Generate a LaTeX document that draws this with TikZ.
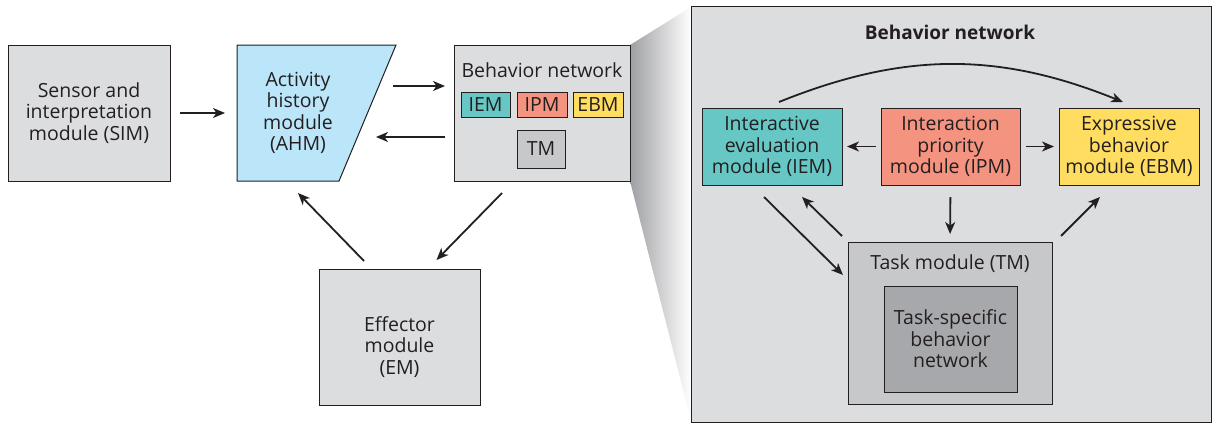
\documentclass[tikz,border=0pt]{standalone}
\usepackage{fontspec}
\setmainfont{Open Sans}
\usetikzlibrary{arrows.meta,backgrounds}

\definecolor{boxgray}{HTML}{DCDDDF}
\definecolor{ahmblue}{HTML}{BBE5F8}
\definecolor{iemteal}{HTML}{66C7C5}
\definecolor{ipmsalmon}{HTML}{F4937F}
\definecolor{ebmyellow}{HTML}{FFDD61}
\definecolor{tmgray}{HTML}{C7C8CA}
\definecolor{tsbngray}{HTML}{A7A8AB}
\definecolor{edge}{HTML}{231F20}

\begin{document}
\begin{tikzpicture}[x=1pt, y=-1pt,
	font=\fontsize{19.5}{21.5}\selectfont, text=edge,
	every node/.style={outer sep=0pt, inner sep=0pt, align=center},
	box/.style={draw=edge, line width=1pt},
	arr/.style={draw=edge, line width=1.8pt, -{Stealth[length=12pt, width=10pt, inset=3.5pt]}}]
	\useasboundingbox (0,0) rectangle (1212,423);

	\node[box, fill=boxgray, minimum width=162pt, minimum height=136pt] (sim) at (89,113) {Sensor and\\interpretation\\module (SIM)};

	\node[minimum width=159pt, minimum height=136pt] (ahm) at (316.5,113) {};
	\draw[box, fill=ahmblue] (ahm.north west) -- (ahm.north east) -- ([xshift=-57pt]ahm.south east) -- (ahm.south west) -- cycle;
	\node (ahmlbl) at (298,113) {Activity\\history\\module\\(AHM)};

	\node[box, fill=boxgray, minimum width=176pt, minimum height=136pt] (bn) at (542,113) {};
	\node (bnlbl) at ([yshift=43pt]bn.center) {Behavior network};
	\node[box, fill=iemteal, minimum width=49pt, minimum height=25pt] (iemsmall) at (485.5,104.5) {IEM};
	\node[box, fill=ipmsalmon, minimum width=50pt, minimum height=25pt] (ipmsmall) at (542,104.5) {IPM};
	\node[box, fill=ebmyellow, minimum width=50pt, minimum height=25pt] (ebmsmall) at (598,104.5) {EBM};
	\node[box, fill=tmgray, minimum width=48pt, minimum height=38pt] (tmsmall) at (541,149) {TM};

	\node[box, fill=boxgray, minimum width=161pt, minimum height=136pt] (em) at (399.5,337) {};
	\node (emlbl) at ([yshift=-10pt]em.center) {Effector\\module\\(EM)};

	\draw[arr, shorten <=10pt, shorten >=12pt] (sim.east) -- (ahm.west);
	\draw[arr, shorten >=9pt] ([xshift=-3pt, yshift=27pt]ahm.east) -- ([yshift=27pt]bn.west);
	\draw[arr, shorten <=9pt] ([yshift=-24pt]bn.west) -- ([xshift=-20pt, yshift=-24pt]ahm.east);
	\draw[arr] ([xshift=-40pt, yshift=-12pt]bn.south) -- ([xshift=37pt, yshift=9pt]em.north);
	\draw[arr] ([xshift=-35.5pt, yshift=8pt]em.north) -- ([xshift=-18.5pt, yshift=-12pt]ahm.south);

	\node[box, fill=boxgray, minimum width=520pt, minimum height=416pt] (panel) at (951,214) {};
	\node[font=\fontsize{19}{21.5}\selectfont\bfseries] (paneltitle) at (950,32) {Behavior network};

	\node[box, fill=iemteal, minimum width=140pt, minimum height=77pt] (iem) at (772,146.5) {Interactive\\evaluation\\module (IEM)};
	\node[box, fill=ipmsalmon, minimum width=139pt, minimum height=77pt] (ipm) at (950.5,146.5) {Interaction\\priority\\module (IPM)};
	\node[box, fill=ebmyellow, minimum width=140pt, minimum height=77pt] (ebm) at (1129,146.5) {Expressive\\behavior\\module (EBM)};

	\node[box, fill=tmgray, minimum width=204pt, minimum height=162pt] (tm) at (950,323) {};
	\node (tmlbl) at (950,264) {Task module (TM)};
	\node[box, fill=tsbngray, minimum width=133pt, minimum height=106pt] (tsbn) at (950.5,339) {Task-specific\\behavior\\network};

	\draw[arr, shorten <=5pt, shorten >=5pt] (ipm.west) -- (iem.east);
	\draw[arr, shorten <=6pt, shorten >=5pt] (ipm.east) -- (ebm.west);
	\draw[arr, shorten <=12pt, shorten >=8pt] (ipm.south) -- (tm.north);
	\draw[arr] ([xshift=-8pt, yshift=-12pt]iem.south) -- ([xshift=-5pt, yshift=48pt]tm.west);
	\draw[arr] ([xshift=-6pt, yshift=6pt]tm.north west) -- ([xshift=30pt, yshift=-12pt]iem.south);
	\draw[arr] ([xshift=9pt, yshift=6pt]tm.north east) -- ([xshift=-29pt, yshift=-12pt]ebm.south);
	\draw[arr] ([xshift=7pt, yshift=6pt]iem.north) to[bend left=22] ([xshift=-6pt, yshift=6pt]ebm.north);

	\begin{scope}[on background layer]
		\shade[left color=tsbngray!95!black, right color=white] (bn.north east) -- ([yshift=-1pt]panel.north west) -- ([yshift=1pt]panel.south west) -- (bn.south east) -- cycle;
	\end{scope}
\end{tikzpicture}
\end{document}
